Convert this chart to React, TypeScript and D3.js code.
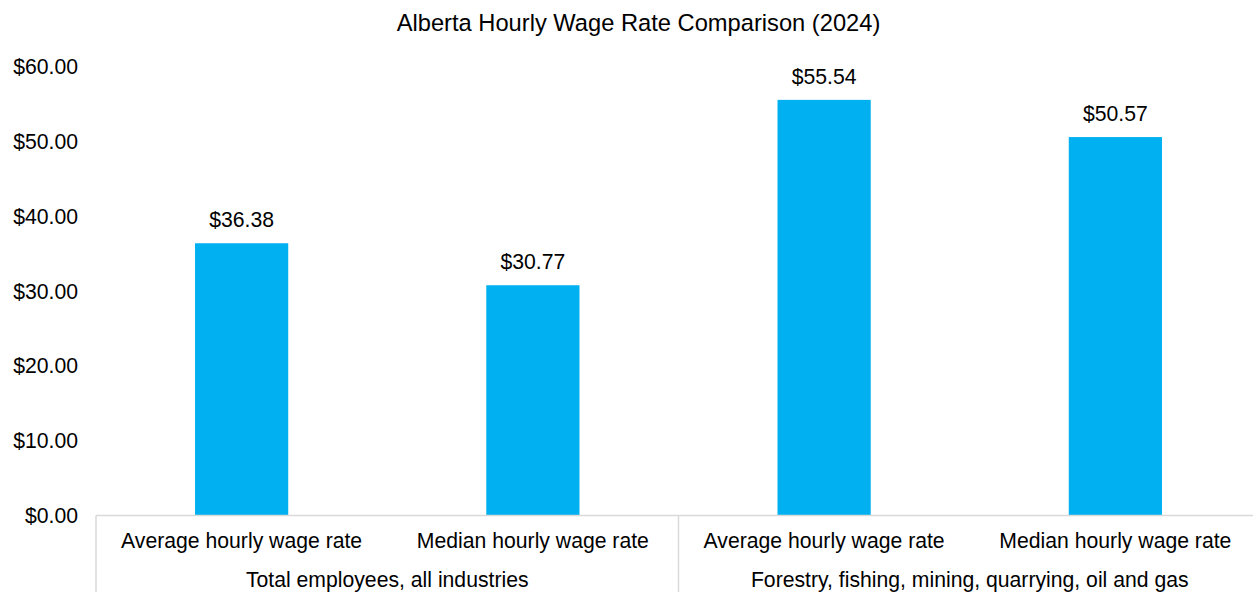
import * as d3 from "d3";

const WIDTH = 1253;
const HEIGHT = 592;
const FONT = "'Liberation Sans', Arial, sans-serif";
const FS = 21.2;

const title = "Alberta Hourly Wage Rate Comparison (2024)";
const groups = ["Total employees, all industries", "Forestry, fishing, mining, quarrying, oil and gas"];
const measures = ["Average hourly wage rate", "Median hourly wage rate"];
const values = [36.38, 30.77, 55.54, 50.57];
const yTicks = [0, 10, 20, 30, 40, 50, 60];

// plot bounds (right edge runs past the window, as in the reference)
const PLOT = { left: 96, right: 1261, top: 66.5, bottom: 515.5 };

export default function App() {
  const data = values.map((v, i) => ({
    key: `${groups[Math.floor(i / 2)]}|${measures[i % 2]}`,
    group: groups[Math.floor(i / 2)],
    measure: measures[i % 2],
    value: v,
  }));

  const xScale = d3
    .scaleBand()
    .domain(data.map((d) => d.key))
    .range([PLOT.left, PLOT.right])
    .padding(0);

  const groupScale = d3
    .scaleBand()
    .domain(groups)
    .range([PLOT.left, PLOT.right])
    .padding(0);

  const yScale = d3.scaleLinear().domain([0, 60]).range([PLOT.bottom, PLOT.top]);

  const barWidth = xScale.bandwidth() * 0.32;
  const fmt = (v: number) => "$" + d3.format(".2f")(v);

  const bars = data.map((d) => {
    const cx = (xScale(d.key) ?? 0) + xScale.bandwidth() / 2;
    return (
      <g key={d.key}>
        <rect
          x={cx - barWidth / 2}
          y={yScale(d.value)}
          width={barWidth}
          height={yScale(0) - yScale(d.value)}
          fill="#00B0F0"
        />
        <text x={cx} y={yScale(d.value) - 16} textAnchor="middle" fontSize={FS}>
          {fmt(d.value)}
        </text>
        <text x={cx} y={547.5} textAnchor="middle" fontSize={FS}>
          {d.measure}
        </text>
      </g>
    );
  });

  const yLabels = yTicks.map((t) => (
    <text key={t} x={78} y={yScale(t) + 7.5} textAnchor="end" fontSize={FS}>
      {fmt(t)}
    </text>
  ));

  const groupLabels = groups.map((g) => (
    <text
      key={g}
      x={(groupScale(g) ?? 0) + groupScale.bandwidth() / 2}
      y={586.5}
      textAnchor="middle"
      fontSize={FS}
    >
      {g}
    </text>
  ));

  // vertical separators between category groups
  const separators = [...groups.map((g) => groupScale(g) ?? 0), PLOT.right].map((x, i) => (
    <line key={i} x1={x} x2={x} y1={PLOT.bottom} y2={HEIGHT} stroke="#d9d9d9" strokeWidth={1.5} />
  ));

  return (
    <svg
      width={WIDTH}
      height={HEIGHT}
      style={{ position: "absolute", left: 0, top: 0, background: "#fff" }}
      fontFamily={FONT}
      fill="#000"
    >
      <text x={638.5} y={30.5} textAnchor="middle" fontSize={23.7}>
        {title}
      </text>
      {yLabels}
      {bars}
      <line x1={PLOT.left} x2={PLOT.right} y1={PLOT.bottom} y2={PLOT.bottom} stroke="#d9d9d9" strokeWidth={1.5} />
      {separators}
      {groupLabels}
    </svg>
  );
}
